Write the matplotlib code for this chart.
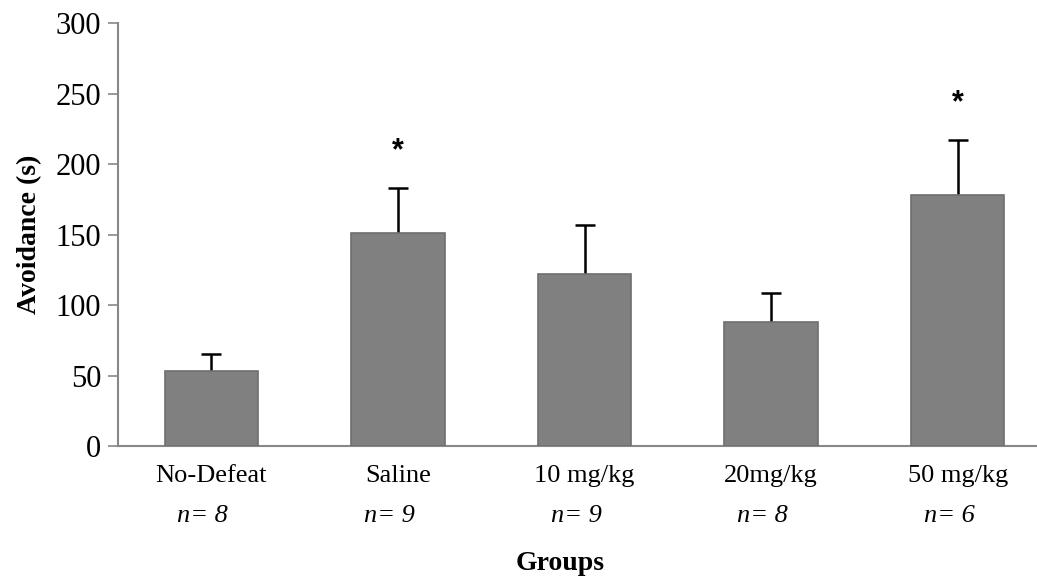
import matplotlib.pyplot as plt

groups = ["No-Defeat", "Saline", "10 mg/kg", "20mg/kg", "50 mg/kg"]
n_labels = ["n= 8", "n= 9", "n= 9", "n= 8", "n= 6"]
avoidance = [53.5, 151, 122, 88, 178]
sem = [11.7, 32.3, 34.8, 20.8, 39]
significant = [False, True, False, False, True]

plt.rcParams['font.family'] = ['Liberation Serif', 'DejaVu Serif']

fig = plt.figure(figsize=(10.37, 5.77), dpi=100)
ax = fig.add_axes([118 / 1037, 131 / 577, 933 / 1037, 422.7 / 577])

x = list(range(len(groups)))
# symmetric error bars drawn under the bars, so only the upper half shows
ax.errorbar(x, avoidance, yerr=sem, fmt="none", ecolor="black",
            elinewidth=1.8, capsize=7, capthick=1.8, zorder=2)
ax.bar(x, avoidance, width=0.5, color="#808080", edgecolor="#6e6e6e", linewidth=1.2, zorder=3)

for xi, v, e, s in zip(x, avoidance, sem, significant):
    if s:
        ax.text(xi, v + e + 26, "*", ha="center", va="center", fontsize=22,
                fontweight="bold", family=["Liberation Sans", "DejaVu Sans"])

ax.set_xlim(-0.5, 4.5)
ax.set_ylim(0, 300)
ax.set_yticks(range(0, 301, 50))
ax.tick_params(axis="y", labelsize=22, length=7, width=1.2, color="#888888", direction="out", pad=5)
ax.set_xticks(x)
ax.set_xticklabels(groups, fontsize=19)
ax.tick_params(axis="x", length=0, pad=14)

for xi, n in zip(x, n_labels):
    ax.text(xi - 0.045, -49.5, n, ha="center", va="center", fontsize=19, style="italic")

for sp in ["top", "right"]:
    ax.spines[sp].set_visible(False)
for sp in ["left", "bottom"]:
    ax.spines[sp].set_color("#888888")
    ax.spines[sp].set_linewidth(1.5)

ax.set_ylabel("Avoidance (s)", fontsize=20, fontweight="bold", labelpad=10)
fig.text(560 / 1037, 1 - 563 / 577, "Groups", ha="center", va="center", fontsize=20, fontweight="bold")

fig.savefig("out.png", dpi=100)
